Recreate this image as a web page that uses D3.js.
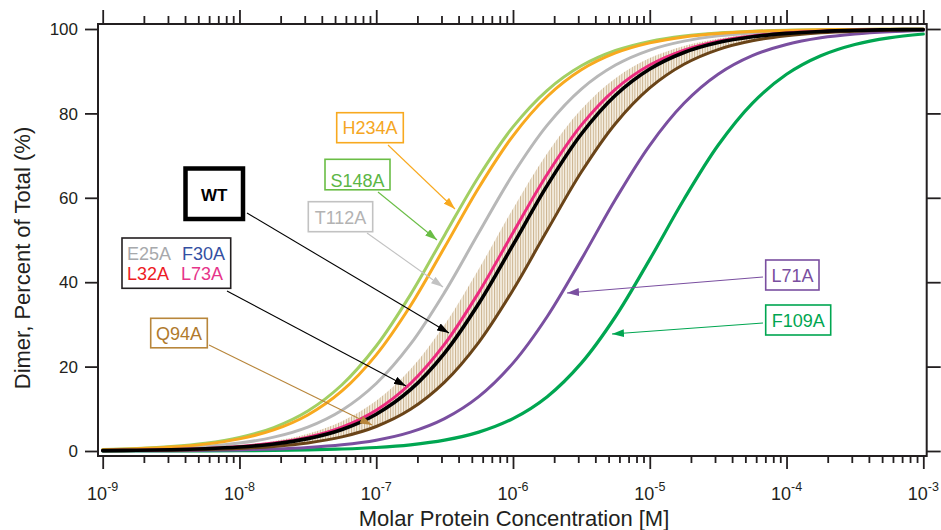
<!DOCTYPE html>
<html><head><meta charset="utf-8">
<script src="https://cdn.jsdelivr.net/npm/d3@7"></script>
<style>
body{margin:0;background:#fff}
svg{display:block}
text{font-family:"Liberation Sans",Arial,Helvetica,sans-serif}
</style>
</head><body>
<svg id="chart" width="941" height="530"></svg>
<script>
// ---------- DATA ----------
const concentration = [1e-9,1.78e-9,3.16e-9,5.62e-9,1e-8,1.78e-8,3.16e-8,5.62e-8,1e-7,1.78e-7,3.16e-7,5.62e-7,1e-6,1.78e-6,3.16e-6,5.62e-6,1e-5,1.78e-5,3.16e-5,5.62e-5,1e-4,1.78e-4,3.16e-4,5.62e-4,1e-3];
const S148A = [0.33,0.59,1.04,1.83,3.21,5.56,9.48,15.70,24.88,37.06,51.15,65.06,76.80,85.48,91.28,94.90,97.07,98.33,99.05,99.46,99.70,99.83,99.90,99.95,99.97];
const H234A = [0.29,0.52,0.93,1.63,2.87,4.99,8.54,14.23,22.79,34.42,48.27,62.40,74.69,84.00,90.32,94.32,96.72,98.13,98.94,99.40,99.66,99.81,99.89,99.94,99.97];
const T112A = [0.19,0.34,0.60,1.06,1.87,3.28,5.68,9.68,16.00,25.31,37.59,51.73,65.58,77.21,85.77,91.46,95.01,97.13,98.37,99.08,99.48,99.71,99.83,99.91,99.95];
const bandUpper = [0.14,0.24,0.43,0.75,1.33,2.34,4.09,7.05,11.89,19.35,29.90,43.14,57.43,70.58,81.01,88.35,93.10,96.00,97.71,98.70,99.26,99.58,99.77,99.87,99.93];
const L73A = [0.11,0.19,0.34,0.60,1.06,1.87,3.28,5.68,9.68,16.00,25.31,37.59,51.73,65.58,77.21,85.77,91.46,95.01,97.13,98.37,99.08,99.48,99.71,99.83,99.91];
const WT = [0.10,0.17,0.30,0.54,0.95,1.67,2.93,5.10,8.72,14.52,23.20,34.94,48.85,62.94,75.12,84.30,90.52,94.44,96.79,98.17,98.96,99.42,99.67,99.81,99.89];
const Q94A = [0.06,0.11,0.20,0.35,0.61,1.09,1.91,3.35,5.81,9.88,16.32,25.75,38.14,52.30,66.10,77.62,86.04,91.64,95.12,97.20,98.40,99.10,99.49,99.71,99.84];
const L71A = [0.03,0.05,0.08,0.15,0.26,0.47,0.83,1.46,2.56,4.47,7.68,12.88,20.82,31.87,45.41,59.66,72.45,82.39,89.27,93.67,96.34,97.91,98.81,99.33,99.62];
const F109A = [0.01,0.02,0.03,0.05,0.08,0.15,0.26,0.47,0.83,1.46,2.56,4.47,7.68,12.88,20.82,31.87,45.41,59.66,72.45,82.39,89.27,93.67,96.34,97.91,98.81];

const xMajorTicks = [1e-9,1e-8,1e-7,1e-6,1e-5,1e-4,1e-3];
const xTickExponents = ["-9","-8","-7","-6","-5","-4","-3"];
const yTicks = [0,20,40,60,80,100];
const xTitle = "Molar Protein Concentration [M]";
const yTitle = "Dimer, Percent of Total (%)";
const labelNames = ["H234A","S148A","T112A","WT","Q94A","L71A","F109A"];
const groupNames = ["E25A","F30A","L32A","L73A"];

// ---------- LAYOUT / STYLE ----------
const svg = d3.select("#chart");
const frame = {l:98, r:926.7, t:24, b:456};
const x = d3.scaleLog().domain([1e-9,1e-3]).range([102.7,923.3]);
const y = d3.scaleLinear().domain([0,100]).range([451,29]);
const axisColor = "#231f20";

const defs = svg.append("defs");
const pat = defs.append("pattern").attr("id","hatch").attr("patternUnits","userSpaceOnUse")
  .attr("width",2.6).attr("height",10);
pat.append("rect").attr("width",2.6).attr("height",10).attr("fill","#f6f0e4");
pat.append("rect").attr("width",1).attr("height",10).attr("fill","#cbb38e");
defs.append("clipPath").attr("id","plotclip").append("rect")
  .attr("x",frame.l+1).attr("y",frame.t+1).attr("width",frame.r-frame.l-2).attr("height",frame.b-frame.t-2);

const plot = svg.append("g").attr("clip-path","url(#plotclip)");
const curve = d3.curveCatmullRom.alpha(0.5);

// hatched band
const band = d3.area().curve(curve)
  .x((d,i)=>x(concentration[i]))
  .y0((d,i)=>y(Q94A[i]))
  .y1((d,i)=>y(bandUpper[i]));
plot.append("path").datum(concentration).attr("d",band).attr("fill","url(#hatch)");

const series = [
  {v:F109A, c:"#00a651", w:3.2},
  {v:L71A, c:"#7a4fa0", w:3},
  {v:Q94A, c:"#6a4418", w:3},
  {v:T112A, c:"#b8b8b8", w:3},
  {v:S148A, c:"#a2cf63", w:3},
  {v:H234A, c:"#f8a91f", w:3},
  {v:L73A, c:"#ec2a7e", w:3},
  {v:WT, c:"#000000", w:3.6}
];
const line = d3.line().curve(curve);
series.forEach(s=>{
  plot.append("path")
    .attr("d", line(s.v.map((v,i)=>[x(concentration[i]), y(v)])))
    .attr("fill","none").attr("stroke",s.c).attr("stroke-width",s.w)
    .attr("stroke-linejoin","round").attr("stroke-linecap","round");
});

// ---------- AXES ----------
const minor = [];
for (let e=-9; e<-3; e++) for (let k=2; k<=9; k++) minor.push(k*Math.pow(10,e));

function styleAxis(g){
  g.select(".domain").remove();
  g.selectAll("line").attr("stroke",axisColor).attr("stroke-width",1.8);
}
svg.append("g").attr("transform",`translate(0,${frame.b})`)
  .call(d3.axisBottom(x).tickValues(xMajorTicks).tickSize(13).tickFormat("")).call(styleAxis);
svg.append("g").attr("transform",`translate(0,${frame.b})`)
  .call(d3.axisBottom(x).tickValues(minor).tickSize(7).tickFormat("")).call(styleAxis);
svg.append("g").attr("transform",`translate(0,${frame.t})`)
  .call(d3.axisTop(x).tickValues(xMajorTicks).tickSize(14).tickFormat("")).call(styleAxis);
svg.append("g").attr("transform",`translate(0,${frame.t})`)
  .call(d3.axisTop(x).tickValues(minor).tickSize(8).tickFormat("")).call(styleAxis);
svg.append("g").attr("transform",`translate(${frame.l},0)`)
  .call(d3.axisLeft(y).tickValues(yTicks).tickSize(13).tickFormat("")).call(styleAxis);
svg.append("g").attr("transform",`translate(${frame.r},0)`)
  .call(d3.axisRight(y).tickValues(yTicks).tickSize(14).tickFormat("")).call(styleAxis);

svg.append("rect").attr("x",frame.l).attr("y",frame.t)
  .attr("width",frame.r-frame.l).attr("height",frame.b-frame.t)
  .attr("fill","none").attr("stroke",axisColor).attr("stroke-width",2);

// y tick labels
svg.append("g").selectAll("text").data(yTicks).join("text")
  .attr("x",78).attr("y",d=>y(d)).attr("dy","0.36em")
  .attr("text-anchor","end").attr("font-size",17).attr("fill",axisColor)
  .text(d=>d);

// x tick labels 10^n
xMajorTicks.forEach((t,i)=>{
  const tx = svg.append("text").attr("x",x(t)).attr("y",500)
    .attr("text-anchor","middle").attr("font-size",18).attr("fill",axisColor);
  tx.append("tspan").text("10");
  tx.append("tspan").attr("dy",-9).attr("font-size",12.5).text(xTickExponents[i]);
});

svg.append("text").attr("x",514).attr("y",526).attr("text-anchor","middle")
  .attr("font-size",22).attr("fill",axisColor).text(xTitle);
svg.append("text").attr("transform","translate(30,258) rotate(-90)").attr("text-anchor","middle")
  .attr("font-size",22).attr("fill",axisColor).text(yTitle);

// ---------- LABELS ----------
function marker(id,color){
  defs.append("marker").attr("id",id).attr("viewBox","0 0 12 8")
    .attr("refX",12).attr("refY",4).attr("markerWidth",12).attr("markerHeight",8)
    .attr("markerUnits","userSpaceOnUse").attr("orient","auto")
    .append("path").attr("d","M0,0L12,4L0,8Z").attr("fill",color);
}
const labelLayout = [
  {box:[336.7,112.7,66.6,30], tx:370, ty:134, color:"#f8a91f", text:"#f5a623", from:[388,145], to:[455,209]},
  {box:[325,159.3,65,30.5], tx:357.5, ty:186.5, color:"#6abd45", text:"#5cb646", from:[378,192], to:[437,240]},
  {box:[308.3,201.7,64.4,30], tx:340.5, ty:224, color:"#c2c2c2", text:"#b3b3b3", from:[367,233], to:[443,287]},
  {box:[185.5,168.5,57.5,50.5], tx:214.2, ty:200.5, color:"#000", text:"#000", from:[247,213], to:[449,333], bold:true},
  {box:[150.7,318.3,56.6,29.5], tx:179, ty:340, color:"#b8863b", text:"#b07a2c", from:[209,345], to:[372,425]},
  {box:[765.7,260,53.3,30], tx:792.4, ty:282.3, color:"#7a4fa0", text:"#7a4fa0", from:[763,277], to:[567,293]},
  {box:[765.7,305,65,30], tx:798.2, ty:326.7, color:"#00a651", text:"#00a651", from:[763,323], to:[612,334]}
];
labelLayout.forEach((L,i)=>{
  const id = "arr"+i;
  marker(id,L.color);
  svg.append("line").attr("x1",L.from[0]).attr("y1",L.from[1]).attr("x2",L.to[0]).attr("y2",L.to[1])
    .attr("stroke",L.color).attr("stroke-width",1.1).attr("marker-end",`url(#${id})`);
  svg.append("rect").attr("x",L.box[0]).attr("y",L.box[1]).attr("width",L.box[2]).attr("height",L.box[3])
    .attr("fill","#fff").attr("stroke",L.color).attr("stroke-width",L.bold?4.5:1.6);
  svg.append("text").attr("x",L.tx).attr("y",L.ty).attr("text-anchor","middle")
    .attr("font-size",L.bold?17:18).attr("font-weight",L.bold?"bold":"normal")
    .attr("fill",L.text).text(labelNames[i]);
});

// group label box
marker("arrGroup","#000");
svg.append("line").attr("x1",227).attr("y1",291).attr("x2",406).attr("y2",386)
  .attr("stroke","#000").attr("stroke-width",1.1).attr("marker-end","url(#arrGroup)");
svg.append("rect").attr("x",122).attr("y",238).attr("width",108.7).attr("height",50.3)
  .attr("fill","#fff").attr("stroke","#231f20").attr("stroke-width",1.6);
const groupLayout = [
  {x:127, y:259.5, c:"#a7a9ac"},
  {x:182, y:259.5, c:"#3450a2"},
  {x:127, y:279.5, c:"#ed1c24"},
  {x:181, y:279.5, c:"#e6358a"}
];
groupLayout.forEach((g,i)=>{
  svg.append("text").attr("x",g.x).attr("y",g.y).attr("font-size",18).attr("fill",g.c).text(groupNames[i]);
});
</script>
</body></html>
